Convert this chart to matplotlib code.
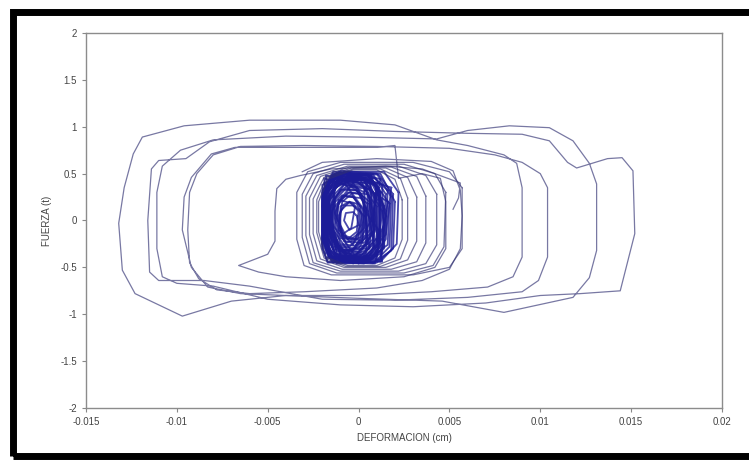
import matplotlib
matplotlib.use("Agg")
import matplotlib.pyplot as plt
from matplotlib.patches import Rectangle

plt.rcParams['font.family'] = ['Liberation Sans', 'DejaVu Sans']

# big cycles: one continuous path, deformation (cm) / force (t)
outer_x = [-0.0031, -0.0020, 0.0010, 0.0040, 0.0052, 0.0056, 0.0057, 0.0056, 0.0050, 0.0035,
           0.0010, -0.0030, -0.0060, -0.0078, -0.0088, -0.0093, -0.0094, -0.0093, -0.0089, -0.0080, -0.0065,
           -0.0030, 0.0010, 0.0050, 0.0075, 0.0090, 0.0100,
           0.0104, 0.0104, 0.0099, 0.0090,
           0.0060, 0.0020, -0.0020, -0.0060, -0.0085, -0.0110,
           -0.0115, -0.0116, -0.0114, -0.0110, -0.0095, -0.0082,
           -0.0060, -0.0020, 0.0020, 0.0060, 0.0090, 0.0105, 0.0115, 0.0120, 0.0137, 0.0145, 0.0151, 0.0152, 0.0144, 0.0122,
           0.0100, 0.0070, 0.0030, -0.0010, -0.0050, -0.0080, -0.0100,
           -0.0108, -0.0111, -0.0111, -0.0108, -0.0098, -0.0080,
           -0.0040, 0.0000, 0.0043, 0.0060, 0.0083, 0.0105, 0.0118, 0.0127,
           0.0131, 0.0131, 0.0127, 0.0118, 0.0080, 0.0046, 0.0000, -0.0040, -0.0070, -0.0097,
           -0.0123, -0.0130, -0.0132, -0.0129, -0.0124, -0.0119, -0.0096, -0.0060, -0.0010, 0.0020, 0.0043, 0.0060, 0.0080, 0.0087,
           0.0090, 0.0090, 0.0085, 0.0071,
           0.0040, 0.0000, -0.0040, -0.0065, -0.0083, -0.0092,
           -0.0097, -0.0096, -0.0092, -0.0081, -0.0068,
           -0.0030, 0.0010, 0.0020, 0.0022, 0.0035,
           0.0045, 0.0048, 0.0048, 0.0042, 0.0025, -0.0010, -0.0040, -0.0055, -0.0066, -0.0058, -0.0050,
           -0.0046, -0.0046, -0.0045, -0.0040, -0.0032, -0.0015, 0.0015, 0.0035, 0.0056, 0.0055, 0.0052]
outer_y = [0.52, 0.62, 0.66, 0.63, 0.53, 0.32, 0.05, -0.30, -0.52, -0.64,
           -0.72, -0.76, -0.78, -0.74, -0.62, -0.45, -0.10, 0.30, 0.50, 0.70, 0.79,
           0.80, 0.79, 0.77, 0.70, 0.62, 0.50,
           0.35, -0.39, -0.64, -0.76,
           -0.82, -0.85, -0.84, -0.70, -0.64, -0.64,
           -0.55, 0.00, 0.55, 0.64, 0.66, 0.84,
           0.96, 0.98, 0.95, 0.93, 0.92, 0.85, 0.62, 0.56, 0.66, 0.67, 0.53, -0.14, -0.75, -0.78,
           -0.80, -0.88, -0.92, -0.90, -0.84, -0.70, -0.67,
           -0.60, -0.30, 0.30, 0.58, 0.75, 0.86,
           0.90, 0.89, 0.87, 0.96, 1.01, 0.99, 0.85, 0.61,
           0.39, -0.32, -0.61, -0.82, -0.98, -0.86, -0.83, -0.80, -0.86, -1.02,
           -0.78, -0.53, -0.03, 0.35, 0.71, 0.89, 1.01, 1.07, 1.07, 1.02, 0.86, 0.80, 0.70, 0.61,
           0.35, -0.39, -0.60, -0.71,
           -0.76, -0.80, -0.80, -0.78, -0.71, -0.50,
           -0.10, 0.25, 0.46, 0.71, 0.78,
           0.78, 0.78, 0.80, 0.45, 0.50,
           0.45, 0.20, -0.30, -0.50, -0.60, -0.64, -0.60, -0.55, -0.48, -0.42, -0.36,
           -0.22, 0.10, 0.34, 0.44, 0.48, 0.55, 0.58, 0.55, 0.40, 0.24, 0.12]

# medium loops around the dense core
mid_x = [
    [0.0057, 0.0057, 0.0050, 0.0030, -0.0015, -0.0030, -0.0034, -0.0034, -0.0028, -0.0010, 0.0030, 0.0050, 0.0057],
    [0.0048, 0.0047, 0.0041, 0.0025, -0.0012, -0.0027, -0.0031, -0.0031, -0.0025, -0.0008, 0.0025, 0.0042, 0.0048],
    [0.0043, 0.0043, 0.0037, 0.0022, -0.0010, -0.0025, -0.0029, -0.0029, -0.0023, -0.0006, 0.0022, 0.0037, 0.0043],
    [0.0037, 0.0037, 0.0032, 0.0018, -0.0009, -0.0023, -0.0027, -0.0027, -0.0021, -0.0005, 0.0018, 0.0032, 0.0037],
    [0.0032, 0.0032, 0.0027, 0.0015, -0.0008, -0.0021, -0.0025, -0.0025, -0.0019, -0.0004, 0.0015, 0.0027, 0.0032],
    [0.0027, 0.0027, 0.0023, 0.0012, -0.0007, -0.0019, -0.0023, -0.0023, -0.0018, -0.0003, 0.0012, 0.0023, 0.0027],
    [0.0024, 0.0024, 0.0020, 0.0010, -0.0006, -0.0018, -0.0022, -0.0022, -0.0017, -0.0003, 0.0010, 0.0020, 0.0024],
]
mid_y = [
    [0.35, -0.30, -0.50, -0.58, -0.58, -0.48, -0.20, 0.30, 0.52, 0.62, 0.62, 0.52, 0.35],
    [0.30, -0.28, -0.48, -0.56, -0.56, -0.46, -0.18, 0.28, 0.50, 0.60, 0.60, 0.50, 0.30],
    [0.28, -0.26, -0.46, -0.54, -0.54, -0.45, -0.16, 0.26, 0.48, 0.58, 0.58, 0.48, 0.28],
    [0.26, -0.24, -0.44, -0.52, -0.52, -0.43, -0.15, 0.24, 0.47, 0.57, 0.57, 0.47, 0.26],
    [0.25, -0.22, -0.42, -0.50, -0.50, -0.41, -0.14, 0.23, 0.46, 0.56, 0.56, 0.46, 0.25],
    [0.24, -0.21, -0.41, -0.49, -0.49, -0.40, -0.13, 0.22, 0.45, 0.55, 0.55, 0.45, 0.24],
    [0.22, -0.20, -0.40, -0.48, -0.48, -0.39, -0.12, 0.20, 0.44, 0.54, 0.54, 0.44, 0.22],
]

# small cycles forming the dense core
core_x = [
    [0.0012, 0.0011, 0.0004, -0.0014, -0.0019, -0.0019, -0.0013, 0.0006],
    [0.0010, 0.0010, 0.0003, -0.0012, -0.0017, -0.0016, -0.0010, 0.0005],
    [0.0015, 0.0013, 0.0005, -0.0015, -0.0020, -0.0020, -0.0014, 0.0008],
    [0.0007, 0.0006, 0.0000, -0.0011, -0.0015, -0.0014, -0.0008, 0.0003],
    [0.0018, 0.0017, 0.0008, -0.0013, -0.0019, -0.0020, -0.0012, 0.0010],
    [0.0004, 0.0004, -0.0002, -0.0010, -0.0013, -0.0012, -0.0006, 0.0001],
    [0.0011, 0.0012, 0.0006, -0.0016, -0.0020, -0.0018, -0.0011, 0.0004],
    [0.0020, 0.0019, 0.0010, -0.0012, -0.0018, -0.0019, -0.0010, 0.0012],
    [0.0002, 0.0001, -0.0004, -0.0009, -0.0011, -0.0010, -0.0005, -0.0001],
    [0.0009, 0.0008, 0.0002, -0.0013, -0.0018, -0.0017, -0.0011, 0.0004],
    [0.0014, 0.0013, 0.0004, -0.0017, -0.0020, -0.0020, -0.0015, 0.0007],
    [0.0006, 0.0006, 0.0000, -0.0014, -0.0017, -0.0016, -0.0009, 0.0002],
    [0.0022, 0.0021, 0.0012, -0.0010, -0.0017, -0.0018, -0.0008, 0.0014],
    [0.0003, 0.0002, -0.0003, -0.0012, -0.0016, -0.0015, -0.0010, -0.0001],
    [0.0016, 0.0015, 0.0007, -0.0015, -0.0019, -0.0019, -0.0013, 0.0009],
    [0.0008, 0.0008, 0.0001, -0.0016, -0.0020, -0.0018, -0.0012, 0.0003],
    [0.0012, 0.0011, 0.0004, -0.0010, -0.0014, -0.0013, -0.0007, 0.0006],
    [0.0019, 0.0018, 0.0009, -0.0014, -0.0020, -0.0020, -0.0013, 0.0011],
    [0.0005, 0.0004, -0.0002, -0.0015, -0.0018, -0.0018, -0.0011, 0.0001],
    [0.0010, 0.0009, 0.0003, -0.0008, -0.0012, -0.0011, -0.0005, 0.0005],
    [0.0013, 0.0014, 0.0006, -0.0014, -0.0019, -0.0018, -0.0012, 0.0007],
    [0.0017, 0.0016, 0.0008, -0.0012, -0.0017, -0.0017, -0.0010, 0.0009],
    [0.0001, 0.0000, -0.0005, -0.0013, -0.0016, -0.0015, -0.0009, -0.0003],
    [0.0011, 0.0010, 0.0003, -0.0017, -0.0020, -0.0020, -0.0014, 0.0005],
    [0.0007, 0.0007, 0.0001, -0.0012, -0.0016, -0.0016, -0.0010, 0.0003],
    [0.0015, 0.0014, 0.0006, -0.0013, -0.0018, -0.0017, -0.0011, 0.0008],
    [0.0003, 0.0003, -0.0002, -0.0010, -0.0013, -0.0013, -0.0007, 0.0000],
    [0.0012, 0.0012, 0.0005, -0.0015, -0.0019, -0.0019, -0.0012, 0.0006],
]
core_y = [
    [0.30, -0.30, -0.44, -0.42, -0.25, 0.28, 0.50, 0.48],
    [0.22, -0.25, -0.40, -0.38, -0.18, 0.25, 0.45, 0.43],
    [0.28, -0.32, -0.45, -0.43, -0.20, 0.30, 0.52, 0.49],
    [0.18, -0.20, -0.33, -0.31, -0.12, 0.20, 0.38, 0.36],
    [0.25, -0.28, -0.46, -0.44, -0.22, 0.32, 0.51, 0.50],
    [0.12, -0.15, -0.27, -0.25, -0.05, 0.15, 0.30, 0.28],
    [0.35, -0.22, -0.38, -0.40, -0.10, 0.36, 0.47, 0.46],
    [0.20, -0.30, -0.45, -0.46, -0.28, 0.25, 0.53, 0.50],
    [0.05, -0.12, -0.20, -0.17, 0.00, 0.10, 0.20, 0.18],
    [0.28, -0.26, -0.36, -0.35, -0.15, 0.22, 0.42, 0.40],
    [0.15, -0.35, -0.42, -0.45, -0.30, 0.18, 0.48, 0.47],
    [0.25, -0.10, -0.30, -0.28, -0.05, 0.30, 0.40, 0.38],
    [0.30, -0.25, -0.44, -0.43, -0.30, 0.20, 0.52, 0.52],
    [0.20, -0.22, -0.32, -0.30, -0.10, 0.18, 0.33, 0.32],
    [0.32, -0.20, -0.40, -0.41, -0.15, 0.30, 0.46, 0.45],
    [0.10, -0.30, -0.42, -0.40, -0.20, 0.12, 0.44, 0.44],
    [0.20, -0.18, -0.30, -0.32, -0.10, 0.25, 0.36, 0.34],
    [0.28, -0.32, -0.44, -0.45, -0.25, 0.26, 0.50, 0.49],
    [0.30, -0.25, -0.38, -0.36, -0.12, 0.28, 0.45, 0.43],
    [0.15, -0.12, -0.24, -0.22, -0.02, 0.20, 0.30, 0.28],
    [0.38, -0.28, -0.43, -0.42, -0.20, 0.34, 0.50, 0.48],
    [0.18, -0.26, -0.37, -0.38, -0.18, 0.22, 0.41, 0.40],
    [0.15, -0.18, -0.28, -0.26, -0.06, 0.16, 0.27, 0.25],
    [0.25, -0.35, -0.46, -0.44, -0.28, 0.22, 0.49, 0.49],
    [0.32, -0.16, -0.34, -0.33, -0.14, 0.28, 0.44, 0.43],
    [0.10, -0.30, -0.40, -0.39, -0.22, 0.15, 0.43, 0.42],
    [0.24, -0.08, -0.20, -0.19, 0.02, 0.22, 0.34, 0.32],
    [0.30, -0.24, -0.39, -0.38, -0.16, 0.26, 0.47, 0.46],
]

# skewed small cycles crossing the core, and the tiny ones in its middle
skew_x = [
    [0.0010, 0.0008, -0.0005, -0.0018, -0.0017, -0.0004],
    [0.0013, 0.0010, -0.0012, -0.0019, -0.0016, 0.0002],
    [0.0006, 0.0009, -0.0008, -0.0017, -0.0013, 0.0004],
    [0.0014, 0.0004, -0.0016, -0.0020, -0.0006, 0.0011],
    [0.0008, 0.0011, 0.0000, -0.0015, -0.0019, -0.0008],
    [0.0003, 0.0005, -0.0010, -0.0016, -0.0012, -0.0002],
    [0.0016, 0.0012, -0.0003, -0.0014, -0.0018, 0.0000],
    [0.0009, 0.0002, -0.0014, -0.0019, -0.0010, 0.0006],
    [0.0012, 0.0007, -0.0007, -0.0018, -0.0015, 0.0001],
    [0.0005, 0.0010, -0.0004, -0.0017, -0.0020, -0.0006],
    [0.0018, 0.0015, 0.0002, -0.0012, -0.0017, -0.0005],
    [0.0007, 0.0004, -0.0009, -0.0020, -0.0014, 0.0003],
    [0.0011, 0.0013, -0.0001, -0.0016, -0.0019, -0.0007],
    [0.0002, 0.0006, -0.0006, -0.0015, -0.0013, -0.0001],
    [0.0015, 0.0009, -0.0010, -0.0019, -0.0011, 0.0008],
    [0.0010, 0.0006, -0.0003, -0.0013, -0.0018, -0.0004],
    [0.0000, -0.0001, -0.0006, -0.0010, -0.0010, -0.0005],
    [0.0003, 0.0001, -0.0007, -0.0012, -0.0011, -0.0003],
    [-0.0002, -0.0004, -0.0009, -0.0011, -0.0008, -0.0003],
    [0.0005, 0.0002, -0.0008, -0.0013, -0.0009, 0.0001],
    [0.0001, -0.0003, -0.0011, -0.0009, -0.0004, 0.0002],
    [-0.0001, 0.0000, -0.0005, -0.0008, -0.0007, -0.0003],
]
skew_y = [
    [0.40, -0.20, -0.42, -0.30, 0.20, 0.47],
    [0.10, -0.40, -0.44, 0.00, 0.44, 0.46],
    [0.46, -0.10, -0.38, -0.40, 0.35, 0.50],
    [-0.05, -0.45, -0.38, 0.25, 0.52, 0.35],
    [0.30, -0.30, -0.46, -0.20, 0.40, 0.50],
    [0.35, -0.25, -0.35, 0.10, 0.42, 0.44],
    [0.20, -0.42, -0.40, -0.10, 0.48, 0.40],
    [-0.20, -0.40, -0.30, 0.30, 0.46, 0.20],
    [0.44, 0.00, -0.44, -0.35, 0.10, 0.50],
    [0.10, -0.38, -0.45, -0.05, 0.38, 0.52],
    [0.35, -0.15, -0.43, -0.36, 0.25, 0.50],
    [0.48, -0.35, -0.42, 0.15, 0.50, 0.30],
    [-0.10, -0.44, -0.40, 0.00, 0.45, 0.38],
    [0.25, -0.30, -0.40, -0.15, 0.40, 0.36],
    [0.05, -0.46, -0.36, 0.20, 0.52, 0.42],
    [0.38, -0.28, -0.46, -0.25, 0.30, 0.48],
    [0.10, -0.12, -0.20, -0.05, 0.15, 0.20],
    [0.05, -0.18, -0.24, 0.02, 0.22, 0.18],
    [0.14, -0.08, -0.15, 0.05, 0.16, 0.16],
    [0.18, -0.22, -0.16, 0.08, 0.26, 0.24],
    [-0.05, -0.26, -0.10, 0.20, 0.28, 0.12],
    [0.05, -0.05, -0.10, 0.00, 0.08, 0.09],
]

x_ticks = [-0.015, -0.01, -0.005, 0, 0.005, 0.01, 0.015, 0.02]
x_labels = ['-0.015', '-0.01', '-0.005', '0', '0.005', '0.01', '0.015', '0.02']
y_ticks = [-2, -1.5, -1, -0.5, 0, 0.5, 1, 1.5, 2]
y_labels = ['-2', '-1.5', '-1', '-0.5', '0', '0.5', '1', '1.5', '2']

line_col = '#303072'
core_col = '#1c1c98'

fig = plt.figure(figsize=(7.49, 4.62), dpi=100)
ax = fig.add_axes([86 / 749, 1 - 408 / 462, (722 - 86) / 749, (408 - 33) / 462])

# closed loops, drawn one by one so overlaps darken like the original
for lx, ly in zip(core_x + skew_x, core_y + skew_y):
    ax.plot(lx + lx[:1], ly + ly[:1], color=core_col, lw=1.3, alpha=0.8)
for lx, ly in zip(mid_x, mid_y):
    ax.plot(lx, ly, color=line_col, lw=0.9, alpha=0.65)
ax.plot(outer_x, outer_y, color=line_col, lw=0.9, alpha=0.65)

ax.set_xlim(-0.015, 0.02)
ax.set_ylim(-2, 2)
ax.set_xticks(x_ticks)
ax.set_xticklabels(x_labels)
ax.set_yticks(y_ticks)
ax.set_yticklabels(y_labels)
ax.tick_params(direction='out', length=3, width=0.8, colors='#888888',
               labelcolor='#444444', labelsize=7)
for s in ax.spines.values():
    s.set_color('#8c8c8c')
    s.set_linewidth(1.0)

ax.set_xlabel('DEFORMACION (cm)', fontsize=7, color='#444444', labelpad=4)
ax.set_ylabel('FUERZA (t)', fontsize=7, color='#444444', labelpad=6)

# thick black frame round the picture (right side falls off the image)
fig.patches.append(Rectangle((13 / 749, 6 / 462), 760 / 749, 444 / 462,
                             transform=fig.transFigure, fill=False,
                             edgecolor='black', linewidth=5, zorder=10))

fig.savefig('out.png', dpi=100)
